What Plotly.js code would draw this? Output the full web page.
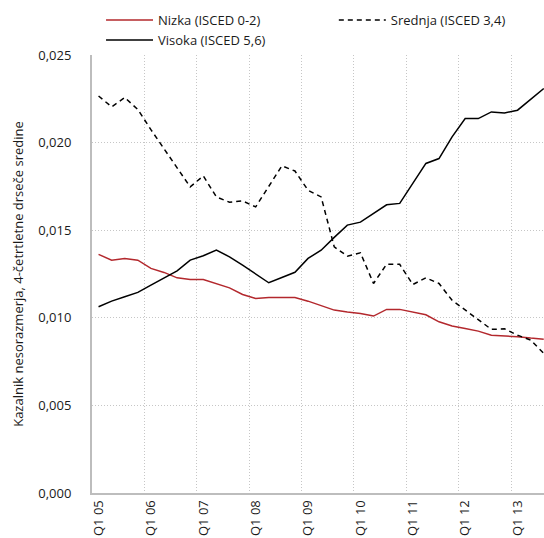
<!DOCTYPE html>
<html>
<head>
<meta charset="utf-8">
<script src="https://cdn.plot.ly/plotly-3.0.1.min.js"></script>
<style>html,body{margin:0;padding:0;background:#fff;}#chart{width:544px;height:538px;}</style>
</head>
<body>
<div id="chart"></div>
<script>
const quarters = ["Q1 05","Q2 05","Q3 05","Q4 05","Q1 06","Q2 06","Q3 06","Q4 06",
  "Q1 07","Q2 07","Q3 07","Q4 07","Q1 08","Q2 08","Q3 08","Q4 08",
  "Q1 09","Q2 09","Q3 09","Q4 09","Q1 10","Q2 10","Q3 10","Q4 10",
  "Q1 11","Q2 11","Q3 11","Q4 11","Q1 12","Q2 12","Q3 12","Q4 12",
  "Q1 13","Q2 13","Q3 13"];

const nizka = [0.01362,0.01329,0.01339,0.01329,0.01282,0.01259,0.01228,0.01219,
  0.01219,0.01196,0.01171,0.01133,0.01110,0.01116,0.01116,0.01116,
  0.01095,0.01068,0.01044,0.01033,0.01025,0.01010,0.01048,0.01048,
  0.01033,0.01017,0.00977,0.00953,0.00939,0.00924,0.00901,0.00897,
  0.00892,0.00884,0.00878];

const srednja = [0.02266,0.02204,0.02257,0.02189,0.02074,0.01964,0.01854,0.01747,
  0.01810,0.01690,0.01660,0.01667,0.01633,0.01750,0.01867,0.01838,
  0.01728,0.01690,0.01405,0.01352,0.01371,0.01196,0.01306,0.01305,
  0.01190,0.01228,0.01196,0.01100,0.01044,0.00987,0.00934,0.00937,
  0.00901,0.00873,0.00797];

const visoka = [0.01063,0.01095,0.01120,0.01145,0.01187,0.01228,0.01268,0.01329,
  0.01354,0.01386,0.01348,0.01300,0.01248,0.01200,0.01230,0.01260,
  0.01339,0.01386,0.01459,0.01529,0.01546,0.01596,0.01645,0.01653,
  0.01767,0.01881,0.01909,0.02033,0.02137,0.02137,0.02175,0.02169,
  0.02185,0.02246,0.02309];

const seriesNames = ["Nizka (ISCED 0-2)", "Srednja (ISCED 3,4)", "Visoka (ISCED 5,6)"];
const yTitle = "Kazalnik nesorazmerja, 4-četrtletne drseče sredine";

const FONT = "Open Sans, Liberation Sans, sans-serif";

const traces = [
  {x: quarters, y: nizka, name: seriesNames[0], type: "scatter", mode: "lines",
   legend: "legend", legendgroup: "g1",
   line: {color: "#b3282d", width: 1.5}},
  {x: quarters, y: srednja, name: seriesNames[1], type: "scatter", mode: "lines",
   legend: "legend2", legendgroup: "g2",
   line: {color: "#000000", width: 1.5, dash: "5px,4px"}},
  {x: quarters, y: visoka, name: seriesNames[2], type: "scatter", mode: "lines",
   legend: "legend", legendgroup: "g3",
   line: {color: "#000000", width: 1.5}}
];

const legendFont = {family: FONT, size: 13, color: "#1a1a1a"};
const GRID = "#c6c6c6";

const layout = {
  width: 544, height: 538,
  margin: {l: 92, r: 0, t: 55, b: 45, pad: 0, autoexpand: false},
  paper_bgcolor: "#ffffff", plot_bgcolor: "#ffffff",
  font: {family: FONT, size: 13, color: "#1a1a1a"},
  separators: ", ",
  showlegend: true,
  legend: {orientation: "v", x: 0.02, xanchor: "left", y: 1.114, yanchor: "top",
           tracegroupgap: 5, traceorder: "normal", itemwidth: 47,
           font: legendFont, bgcolor: "rgba(0,0,0,0)"},
  legend2: {orientation: "v", x: 0.535, xanchor: "left", y: 1.114, yanchor: "top",
           traceorder: "normal", itemwidth: 47,
           font: legendFont, bgcolor: "rgba(0,0,0,0)"},
  xaxis: {
    type: "category", range: [-0.5, 34.02], tickmode: "linear", tick0: 0, dtick: 4,
    tickson: "boundaries", tickangle: -90, ticks: "", ticklen: 0,
    showgrid: true, gridcolor: GRID, gridwidth: 1, griddash: "1px,2px",
    showline: true, linecolor: "#bdbdbd", linewidth: 2,
    tickfont: {family: FONT, size: 13, color: "#1a1a1a"}, automargin: false
  },
  yaxis: {
    range: [0, 0.025], tickmode: "linear", tick0: 0, dtick: 0.005, tickformat: ".3f",
    showgrid: true, gridcolor: GRID, gridwidth: 1, griddash: "1px,2px",
    zeroline: false, showline: true, linecolor: "#bdbdbd", linewidth: 2,
    ticks: "", ticklabelstandoff: 16,
    tickfont: {family: FONT, size: 13, color: "#1a1a1a"},
    title: {text: yTitle, font: {family: FONT, size: 13, color: "#1a1a1a"}, standoff: 12},
    automargin: false
  }
};

Plotly.newPlot("chart", traces, layout, {displayModeBar: false, staticPlot: true});
</script>
</body>
</html>
